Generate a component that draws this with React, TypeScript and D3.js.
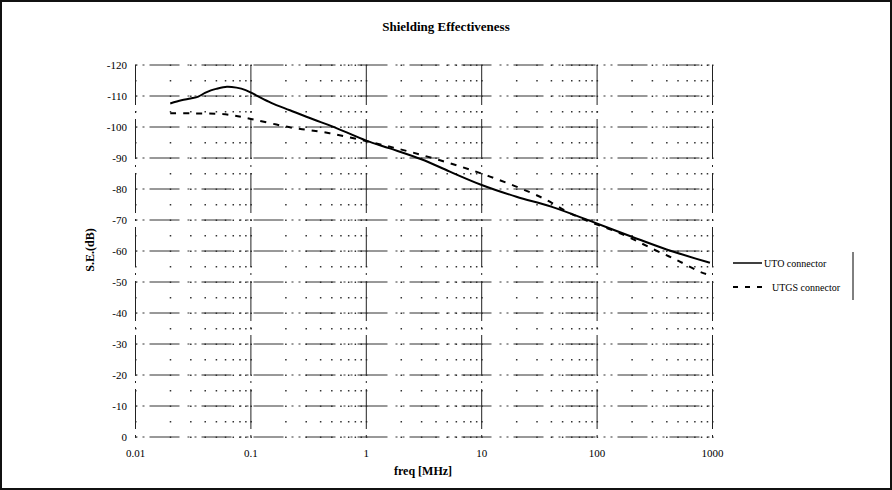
import React, { useEffect, useRef } from "react";
import * as d3 from "d3";

const utoFreq = [0.02, 0.025, 0.03, 0.035, 0.04, 0.045, 0.05, 0.062, 0.075, 0.09, 0.11, 0.15, 0.218, 0.35, 0.5, 1, 1.6, 3, 5.3, 10, 20, 40, 87, 200, 400, 950];
const utoSE = [-107.6, -108.6, -109.2, -109.8, -111.0, -111.8, -112.3, -113.0, -112.7, -111.9, -110.3, -107.8, -105.4, -102.4, -100.3, -95.6, -93.1, -89.6, -85.6, -81.3, -77.5, -74.3, -69.7, -64.6, -60.5, -56.2];
const utgsFreq = [0.02, 0.03, 0.06, 0.1, 0.218, 0.48, 1.15, 2.39, 5.3, 11.8, 32, 64.6, 170, 310, 490, 776, 880];
const utgsSE = [-104.4, -104.4, -104.1, -102.6, -99.9, -98, -94.9, -92, -88.3, -84, -77.5, -71.4, -65.2, -60.5, -57.1, -53.3, -52.6];
const xTicks = [0.01, 0.1, 1, 10, 100, 1000];
const xTickLabels = ["0.01", "0.1", "1", "10", "100", "1000"];
const yTicks = [0, -10, -20, -30, -40, -50, -60, -70, -80, -90, -100, -110, -120];
const legendNames = ["UTO connector", "UTGS connector"];

export default function App() {
  const ref = useRef<SVGSVGElement>(null);

  useEffect(() => {
    const svg = d3.select(ref.current);
    svg.selectAll("*").remove();
    const font = "'Liberation Serif', 'DejaVu Serif', serif";

    const x = d3.scaleLog().domain([0.01, 1000]).range([135.5, 712.5]);
    const y = d3.scaleLinear().domain([0, -120]).range([437, 65]);

    // outer frame
    svg.append("rect")
      .attr("x", 1).attr("y", 1).attr("width", 890).attr("height", 488)
      .attr("fill", "white").attr("stroke", "#111").attr("stroke-width", 2);

    svg.append("text")
      .attr("x", 446).attr("y", 31)
      .attr("text-anchor", "middle")
      .style("font-family", font).style("font-size", "13px").style("font-weight", "bold")
      .text("Shielding Effectiveness");

    const g = svg.append("g");

    // minor grid as dots at every log tick x every 5 dB
    const minorX = x.ticks(50).filter(v => v >= 0.01 && v <= 1000);
    const minorY = d3.range(0, -121, -5);
    minorY.forEach(v => {
      g.selectAll(null)
        .data(minorX)
        .enter().append("rect")
        .attr("x", d => x(d) - 0.5)
        .attr("y", y(v) - 0.5)
        .attr("width", 1.5).attr("height", 1.5)
        .attr("fill", "#333");
    });

    // major grid, broken lines like the scan
    g.selectAll(".vmaj")
      .data(xTicks)
      .enter().append("line")
      .attr("x1", d => x(d)).attr("x2", d => x(d))
      .attr("y1", y(-120)).attr("y2", y(0))
      .attr("stroke", "#222").attr("stroke-width", 1)
      .attr("stroke-dasharray", "40,6,2,6");
    g.selectAll(".hmaj")
      .data(yTicks)
      .enter().append("line")
      .attr("x1", x(0.01)).attr("x2", x(1000))
      .attr("y1", d => y(d)).attr("y2", d => y(d))
      .attr("stroke", "#333").attr("stroke-width", 1)
      .attr("stroke-dasharray", "2,5,2,5,30,8");

    // axis tick labels
    g.selectAll(".yl")
      .data(yTicks)
      .enter().append("text")
      .attr("x", 127).attr("y", d => y(d) + 4)
      .attr("text-anchor", "end")
      .style("font-family", font).style("font-size", "11px")
      .text(d => String(d));
    g.selectAll(".xl")
      .data(xTicks)
      .enter().append("text")
      .attr("x", d => x(d)).attr("y", 457)
      .attr("text-anchor", "middle")
      .style("font-family", font).style("font-size", "11px")
      .text((d, i) => xTickLabels[i]);

    svg.append("text")
      .attr("x", 423).attr("y", 475)
      .attr("text-anchor", "middle")
      .style("font-family", font).style("font-size", "12px").style("font-weight", "bold")
      .text("freq [MHz]");
    svg.append("text")
      .attr("transform", "translate(94,250) rotate(-90)")
      .attr("text-anchor", "middle")
      .style("font-family", font).style("font-size", "12px").style("font-weight", "bold")
      .text("S.E.(dB)");

    const line = d3.line<[number, number]>()
      .x(d => x(d[0]))
      .y(d => y(d[1]))
      .curve(d3.curveCatmullRom.alpha(0.5));

    g.append("path")
      .attr("d", line(utoFreq.map((f, i) => [f, utoSE[i]] as [number, number])))
      .attr("fill", "none").attr("stroke", "#000").attr("stroke-width", 2);
    g.append("path")
      .attr("d", line(utgsFreq.map((f, i) => [f, utgsSE[i]] as [number, number])))
      .attr("fill", "none").attr("stroke", "#000").attr("stroke-width", 2)
      .attr("stroke-dasharray", "6,7");

    // legend
    const leg = svg.append("g");
    const ly = [263, 287];
    leg.append("line").attr("x1", 733).attr("x2", 762).attr("y1", ly[0]).attr("y2", ly[0])
      .attr("stroke", "#000").attr("stroke-width", 1.5);
    leg.append("line").attr("x1", 733).attr("x2", 766).attr("y1", ly[1]).attr("y2", ly[1])
      .attr("stroke", "#000").attr("stroke-width", 2).attr("stroke-dasharray", "5,7");
    leg.selectAll(".lt")
      .data(legendNames)
      .enter().append("text")
      .attr("x", (d, i) => (i === 0 ? 764 : 772))
      .attr("y", (d, i) => ly[i] + 4)
      .style("font-family", font).style("font-size", "10px")
      .text(d => d);
    leg.append("line").attr("x1", 853).attr("x2", 853).attr("y1", 252).attr("y2", 300)
      .attr("stroke", "#000").attr("stroke-width", 1);
  }, []);

  return (
    <svg ref={ref} width={892} height={490}
      style={{ position: "absolute", left: 0, top: 0, background: "white" }} />
  );
}
